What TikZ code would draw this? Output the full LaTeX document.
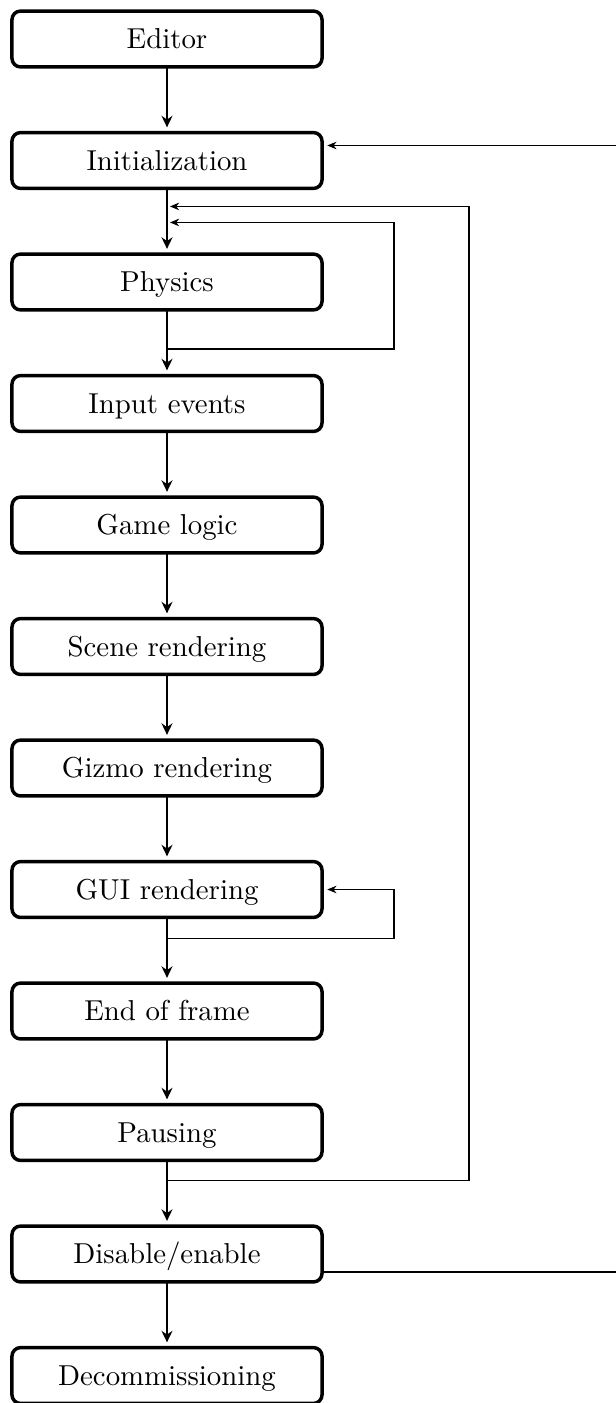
\documentclass[tikz,border=0pt]{standalone}
\usetikzlibrary{arrows.meta,calc}
\begin{document}
\begin{tikzpicture}[x=0.347pt,y=-0.347pt,
  stage/.style={draw, line width=1.2pt, rounded corners=3pt,
    minimum width=107.6pt, minimum height=19.4pt, inner sep=0pt, outer sep=0pt,
    text height=6.9pt, text depth=0pt},
  flow/.style={line width=0.7pt, -{Stealth[length=4pt,width=3.8pt,inset=1.3pt]},
    shorten >=1.8pt},
  back/.style={line width=0.65pt, -{Stealth[length=3.2pt,width=2.6pt,inset=1pt]}},
]
\useasboundingbox (0,0) rectangle (616,1403);

% stages of the frame loop
\node[stage] (ed)   at (167,39)     {Editor};
\node[stage] (init) at (167,160.5)  {Initialization};
\node[stage] (phys) at (167,282)    {Physics};
\node[stage] (inp)  at (167,403.5)  {Input events};
\node[stage] (game) at (167,525)    {Game logic};
\node[stage] (scn)  at (167,646.5)  {Scene rendering};
\node[stage] (giz)  at (167,768)    {Gizmo rendering};
\node[stage] (gui)  at (167,889.5)  {GUI rendering};
\node[stage] (eof)  at (167,1011)   {End of frame};
\node[stage] (pau)  at (167,1132.5) {Pausing};
\node[stage] (dis)  at (167,1254)   {Disable/enable};
\node[stage] (dec)  at (167,1375.5) {Decommissioning};

% main downward flow
\draw[flow] (ed)   -- (init);
\draw[flow] (init) -- (phys);
\draw[flow] (phys) -- (inp);
\draw[flow] (inp)  -- (game);
\draw[flow] (game) -- (scn);
\draw[flow] (scn)  -- (giz);
\draw[flow] (giz)  -- (gui);
\draw[flow] (gui)  -- (eof);
\draw[flow] (eof)  -- (pau);
\draw[flow] (pau)  -- (dis);
\draw[flow] (dis)  -- (dec);

% re-entry points on the line above Physics
\coordinate (a1) at ($(init.south)+(0,18)$);
\coordinate (a2) at ($(init.south)+(0,34)$);

% physics sub-step loop
\coordinate (p1) at ($(phys.south)+(0,39)$);
\draw[back, shorten >=1pt] (p1) -- ++(227,0) |- (a2);

% GUI loop
\coordinate (g1) at ($(gui.south)+(0,21)$);
\draw[back, shorten >=1.8pt] (g1) -- ++(227,0) |- (gui.east);

% pause loop back to physics
\coordinate (q1) at ($(pau.south)+(0,20)$);
\draw[back, shorten >=1pt] (q1) -- ++(302,0) |- (a1);

% disable/enable back to initialization
\draw[back, shorten >=1.8pt] (dis.east) -- ++(0,18) -- ++(400,0)
  |- ($(init.east)+(0,-15)$);
\end{tikzpicture}
\end{document}
